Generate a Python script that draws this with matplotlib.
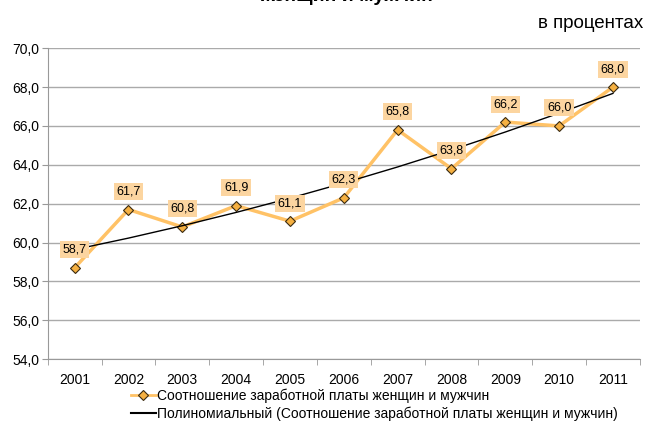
import numpy as np
import matplotlib
matplotlib.use('Agg')
import matplotlib.pyplot as plt
from matplotlib.lines import Line2D

years = ['2001', '2002', '2003', '2004', '2005', '2006', '2007', '2008', '2009', '2010', '2011']
ratio = [58.7, 61.7, 60.8, 61.9, 61.1, 62.3, 65.8, 63.8, 66.2, 66.0, 68.0]
yticks = [54, 56, 58, 60, 62, 64, 66, 68, 70]

plt.rcParams['font.family'] = ['Liberation Sans', 'DejaVu Sans']

fig = plt.figure(figsize = (6.45, 4.23), dpi = 100)
ax = fig.add_axes([0.074, 0.151, 0.918, 0.735])

x = np.arange(len(years))

# polynomial (2nd order) trendline
coef = np.polyfit(x, ratio, 2)
trend = np.polyval(coef, x)

ax.plot(x, ratio, color = '#ffc266', lw = 2.5, marker = 'D', ms = 5.5,
        mfc = '#f5b041', mec = '#3a2a10', mew = 0.8, zorder = 3)
ax.plot(x, trend, color = 'black', lw = 1, zorder = 4)

for xi, v in zip(x, ratio):
    ax.annotate(f'{v:.1f}'.replace('.', ','), (xi, v), xytext = (0, 13),
                textcoords = 'offset points', ha = 'center', va = 'center',
                fontsize = 9, zorder = 5,
                bbox = dict(boxstyle = 'square,pad=0.2', fc = '#fcd5a0', ec = 'none'))

ax.set_xlim(-0.5, len(years) - 0.5)
ax.set_ylim(54, 70)
ax.set_yticks(yticks)
ax.set_yticklabels([f'{t:.1f}'.replace('.', ',') for t in yticks], fontsize = 10)
ax.set_xticks(x)
ax.set_xticklabels(years, fontsize = 10)
ax.set_xticks(np.arange(-0.5, len(years)), minor = True)
ax.tick_params(axis = 'x', which = 'major', length = 0, pad = 10)
ax.tick_params(axis = 'x', which = 'minor', length = 4, color = '#999999')
ax.tick_params(axis = 'y', length = 4, color = '#999999', pad = 2)
ax.yaxis.grid(True, color = '#aaaaaa', lw = 1)
ax.set_axisbelow(True)
for s in ['top', 'right']:
    ax.spines[s].set_visible(False)
for s in ['left', 'bottom']:
    ax.spines[s].set_color('#999999')

fig.text(0.537, 0.998, 'женщин и мужчин', ha = 'center', va = 'baseline',
         fontsize = 14, fontweight = 'bold')
fig.text(0.997, 0.944, 'в процентах', ha = 'right', va = 'center', fontsize = 13.5)

handles = [
    Line2D([], [], color = '#ffc266', lw = 2, marker = 'D', ms = 5,
           mfc = '#f5b041', mec = '#3a2a10', mew = 0.8),
    Line2D([], [], color = 'black', lw = 1.5),
]
labels = ['Соотношение заработной платы женщин и мужчин',
          'Полиномиальный (Соотношение заработной платы женщин и мужчин)']
fig.legend(handles, labels, loc = 'upper left', bbox_to_anchor = (0.192, 0.098),
           frameon = False, fontsize = 10, handlelength = 1.8, handletextpad = 0.1,
           labelspacing = 0.25, borderpad = 0)

fig.savefig('out.png', dpi = 100)
